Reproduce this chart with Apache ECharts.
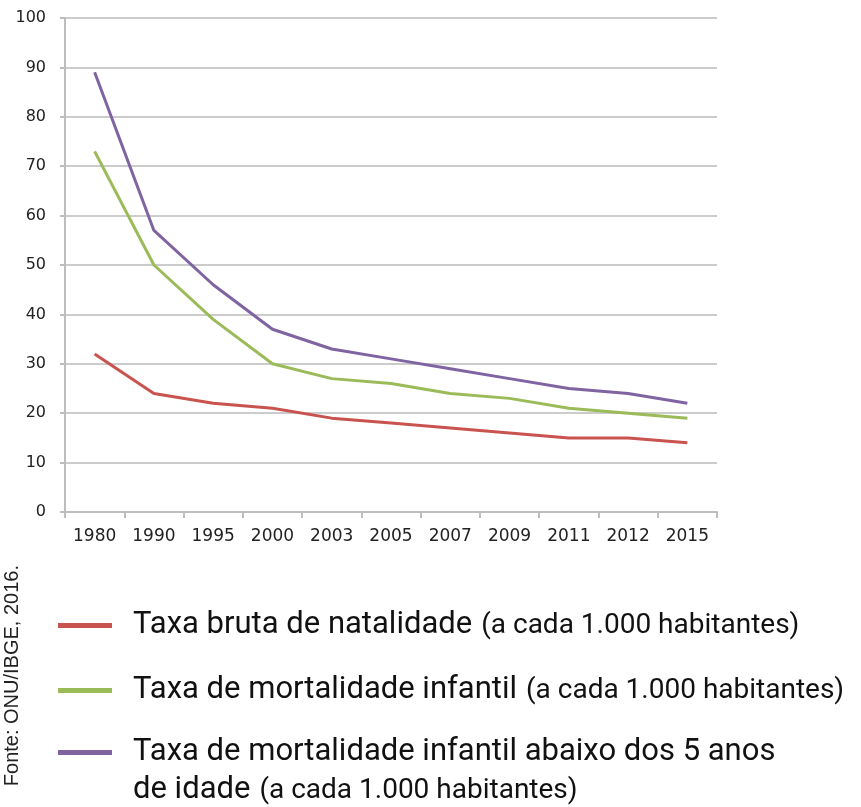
<!DOCTYPE html>
<html>
<head>
<meta charset="utf-8">
<script src="https://cdn.jsdelivr.net/npm/echarts@6/dist/echarts.min.js"></script>
<style>
  html, body { margin: 0; padding: 0; background: #fff; }
  #chart { width: 861px; height: 807px; }
</style>
</head>
<body>
<div id="chart"></div>
<script>
var anos = ['1980', '1990', '1995', '2000', '2003', '2005', '2007', '2009', '2011', '2012', '2015'];
var natalidade = [32, 24, 22, 21, 19, 18, 17, 16, 15, 15, 14];
var mortInfantil = [73, 50, 39, 30, 27, 26, 24, 23, 21, 20, 19];
var mortAbaixo5 = [89, 57, 46, 37, 33, 31, 29, 27, 25, 24, 22];

var nomes = [
    'Taxa bruta de natalidade',
    'Taxa de mortalidade infantil',
    'Taxa de mortalidade infantil abaixo dos 5 anos'
];
var cores = ['#c9534f', '#9bbb59', '#8064a2'];

var richLegenda = {
    a: { fontFamily: 'Roboto', fontSize: 31, color: '#111', lineHeight: 38 },
    b: { fontFamily: 'Roboto', fontSize: 28, color: '#111', lineHeight: 38, padding: [0, 0, 0, 9] }
};

function legenda(i, top, textos, padTop) {
    return {
        data: [nomes[i]],
        left: 58,
        top: top,
        padding: 0,
        icon: 'rect',
        itemWidth: 54,
        itemHeight: 5,
        selectedMode: false,
        formatter: function () { return textos; },
        textStyle: { padding: [padTop, 0, 0, 16], rich: richLegenda }
    };
}

var myChart = echarts.init(document.getElementById('chart'));

var option = {
    animation: false,
    grid: { left: 65, right: 144, top: 18, bottom: 295 },
    xAxis: {
        type: 'category',
        data: anos,
        boundaryGap: true,
        axisLine: { lineStyle: { color: '#bdbdbd', width: 2 } },
        axisTick: { show: true, length: 6, lineStyle: { color: '#bdbdbd', width: 2 } },
        axisLabel: { fontFamily: 'DejaVu Sans', fontSize: 17, color: '#222', margin: 16 }
    },
    yAxis: {
        type: 'value',
        min: 0,
        max: 100,
        interval: 10,
        axisLine: { show: true, lineStyle: { color: '#bdbdbd', width: 2 } },
        axisTick: { show: true, length: 5, lineStyle: { color: '#bdbdbd', width: 2 } },
        axisLabel: { fontFamily: 'DejaVu Sans', fontSize: 16, color: '#222', margin: 19 },
        splitLine: { lineStyle: { color: '#cccccc', width: 2 } }
    },
    legend: [
        legenda(0, 610, '{a|Taxa bruta de natalidade}{b|(a cada 1.000 habitantes)}', 0),
        legenda(1, 675, '{a|Taxa de mortalidade infantil}{b|(a cada 1.000 habitantes)}', 0),
        legenda(2, 737, '{a|Taxa de mortalidade infantil abaixo dos 5 anos}\n{a|de idade}{b|(a cada 1.000 habitantes)}', 38)
    ],
    graphic: [{
        type: 'text',
        left: 2,
        top: 565,
        rotation: Math.PI / 2,
        style: {
            text: 'Fonte: ONU/IBGE, 2016.',
            fontFamily: 'Liberation Sans',
            fontSize: 20,
            fill: '#222'
        }
    }],
    series: [
        { name: nomes[0], type: 'line', data: natalidade, symbol: 'none', lineStyle: { width: 3 }, color: cores[0] },
        { name: nomes[1], type: 'line', data: mortInfantil, symbol: 'none', lineStyle: { width: 3 }, color: cores[1] },
        { name: nomes[2], type: 'line', data: mortAbaixo5, symbol: 'none', lineStyle: { width: 3 }, color: cores[2] }
    ]
};
myChart.setOption(option);
</script>
</body>
</html>
